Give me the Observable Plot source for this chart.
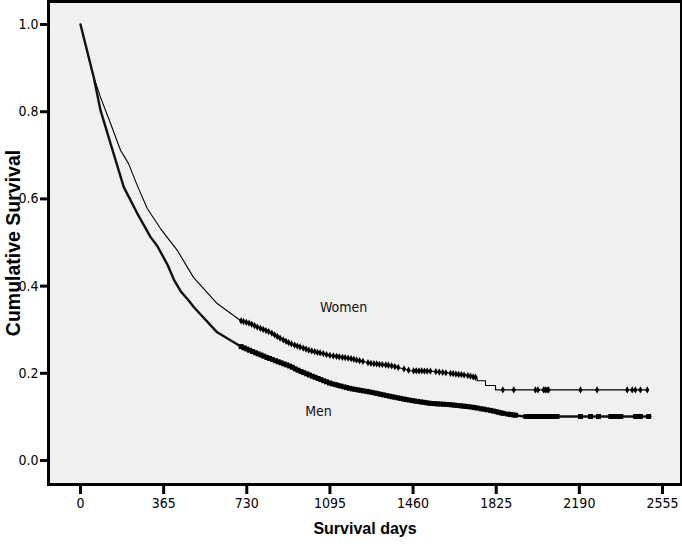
<!DOCTYPE html>
<html>
<head>
<meta charset="utf-8">
<script src="https://cdn.jsdelivr.net/npm/d3@7"></script>
<script src="https://cdn.jsdelivr.net/npm/@observablehq/plot@0.6"></script>
<style>
  body { margin: 0; background: #fff; }
  #chart svg { display: block; }
</style>
</head>
<body>
<div id="chart"></div>
<script>
// ---- data ----
const xTicks = [0, 365, 730, 1095, 1460, 1825, 2190, 2555];
const yTicks = [0.0, 0.2, 0.4, 0.6, 0.8, 1.0];

const menDays = [0, 58, 88, 132, 190, 249, 307, 337, 381, 410, 440, 475, 497, 600, 702, 746, 820, 922, 951, 1010, 1097, 1185, 1273, 1361, 1449, 1537, 1624, 1712, 1800, 1857, 1895, 1946, 2502];
const menSurv = [1.000, 0.879, 0.803, 0.727, 0.627, 0.567, 0.513, 0.492, 0.450, 0.415, 0.388, 0.367, 0.352, 0.294, 0.262, 0.252, 0.236, 0.216, 0.208, 0.195, 0.177, 0.165, 0.157, 0.147, 0.138, 0.131, 0.128, 0.123, 0.115, 0.108, 0.105, 0.101, 0.101];

const womenDays = [0, 51, 88, 132, 176, 211, 249, 293, 351, 425, 496, 584, 600, 702, 746, 776, 834, 878, 922, 1010, 1097, 1185, 1273, 1361, 1449, 1537, 1624, 1698, 1741, 1741, 1778, 1778, 1822, 1822, 2489];
const womenSurv = [1.000, 0.891, 0.833, 0.773, 0.711, 0.681, 0.631, 0.578, 0.532, 0.482, 0.420, 0.369, 0.360, 0.321, 0.314, 0.306, 0.294, 0.280, 0.268, 0.252, 0.241, 0.234, 0.223, 0.218, 0.206, 0.205, 0.200, 0.195, 0.190, 0.183, 0.183, 0.172, 0.172, 0.162, 0.162];

const menCensor = [705, 718, 730, 742, 755, 768, 780, 793, 805, 818, 830, 843, 856, 868, 880, 893, 905, 918, 930, 943, 955, 968, 980, 993, 1005, 1018, 1030, 1043, 1055, 1068, 1080, 1093, 1105, 1118, 1130, 1143, 1156, 1168, 1180, 1193, 1205, 1218, 1230, 1243, 1256, 1268, 1280, 1293, 1305, 1318, 1330, 1343, 1356, 1368, 1380, 1393, 1405, 1418, 1430, 1443, 1456, 1468, 1480, 1493, 1505, 1518, 1530, 1543, 1556, 1568, 1580, 1593, 1605, 1618, 1630, 1642, 1655, 1668, 1680, 1692, 1705, 1718, 1730, 1742, 1758, 1770, 1785, 1800, 1812, 1825, 1835, 1846, 1856, 1876, 1888, 1900, 1910, 1955, 1966, 1976, 1987, 1998, 2008, 2019, 2028, 2040, 2050, 2061, 2071, 2080, 2092, 2195, 2239, 2274, 2328, 2340, 2352, 2364, 2372, 2437, 2448, 2458, 2494];

const womenCensor = [705, 716, 728, 740, 752, 764, 776, 790, 802, 814, 826, 840, 852, 864, 876, 890, 902, 914, 926, 940, 952, 964, 978, 990, 1002, 1015, 1028, 1040, 1052, 1066, 1080, 1095, 1110, 1124, 1136, 1150, 1162, 1175, 1188, 1200, 1212, 1225, 1240, 1262, 1275, 1288, 1300, 1312, 1325, 1340, 1352, 1366, 1380, 1395, 1420, 1440, 1462, 1474, 1486, 1498, 1510, 1522, 1536, 1560, 1575, 1590, 1604, 1624, 1636, 1648, 1660, 1672, 1684, 1700, 1712, 1724, 1734, 1854, 1902, 1997, 2008, 2033, 2040, 2048, 2055, 2195, 2268, 2400, 2422, 2436, 2458, 2488];

const seriesLabels = ["Women", "Men"];
const labelDays = [1155, 1045];
const labelSurv = [0.351, 0.112];

// ---- build tables ----
const men = menDays.map((d, i) => ({day: d, s: menSurv[i]}));
const women = womenDays.map((d, i) => ({day: d, s: womenSurv[i]}));

// censor marks sit on the drawn curve
function onCurve(days, surv, t) {
  let i = 0;
  while (i < days.length - 1 && days[i + 1] <= t) i++;
  if (i >= days.length - 1) return surv[surv.length - 1];
  const d0 = days[i], d1 = days[i + 1];
  if (d1 === d0) return surv[i + 1];
  return surv[i] + (surv[i + 1] - surv[i]) * (t - d0) / (d1 - d0);
}
const menMarks = menCensor.map(t => ({day: t, s: onCurve(menDays, menSurv, t)}));
const womenMarks = womenCensor.map(t => ({day: t, s: onCurve(womenDays, womenSurv, t)}));
const labels = seriesLabels.map((n, i) => ({name: n, day: labelDays[i], s: labelSurv[i]}));

const narrow = "'Liberation Sans Narrow', 'Arial Narrow', 'DejaVu Sans Condensed', sans-serif";
const bold = "'Liberation Sans', Arial, sans-serif";

const chart = Plot.plot({
  width: 682,
  height: 544,
  marginLeft: 48,
  marginRight: 1,
  marginTop: 1,
  marginBottom: 60,
  style: {background: "white", color: "black", fontFamily: narrow},
  x: {domain: [-140.5, 2638.4]},
  y: {domain: [-0.055, 1.0528]},
  marks: [
    Plot.frame({fill: "#f0f0f0", stroke: null}),
    Plot.axisX({ticks: xTicks, tickSize: 10, strokeWidth: 3, tickPadding: 4, fontSize: 14, label: null, tickFormat: d => String(d)}),
    Plot.axisY({ticks: yTicks, tickSize: 8, strokeWidth: 3, tickPadding: 2, fontSize: 14, label: null, tickFormat: d => d.toFixed(1)}),
    Plot.line(women, {x: "day", y: "s", stroke: "#000", strokeWidth: 1.1}),
    Plot.line(men, {x: "day", y: "s", stroke: "#111", strokeWidth: 2.4}),
    Plot.dot(womenMarks, {x: "day", y: "s", symbol: "diamond", r: 2.2, fill: "#000", stroke: "none"}),
    Plot.dot(menMarks, {x: "day", y: "s", symbol: "square", r: 2.8, fill: "#000", stroke: "none"}),
    Plot.text(labels, {x: "day", y: "s", text: "name", fontSize: 14, fill: "#111", fontFamily: narrow}),
    Plot.text(["Survival days"], {frameAnchor: "bottom", dy: 49, text: d => d, fontSize: 16, fontWeight: "bold", fontFamily: bold}),
    Plot.text(["Cumulative Survival"], {frameAnchor: "left", textAnchor: "middle", dx: -35, rotate: -90, text: d => d, fontSize: 19.5, fontWeight: "bold", fontFamily: bold}),
    Plot.frame({stroke: "#000", strokeWidth: 3})
  ]
});
document.getElementById("chart").appendChild(chart);
</script>
</body>
</html>
